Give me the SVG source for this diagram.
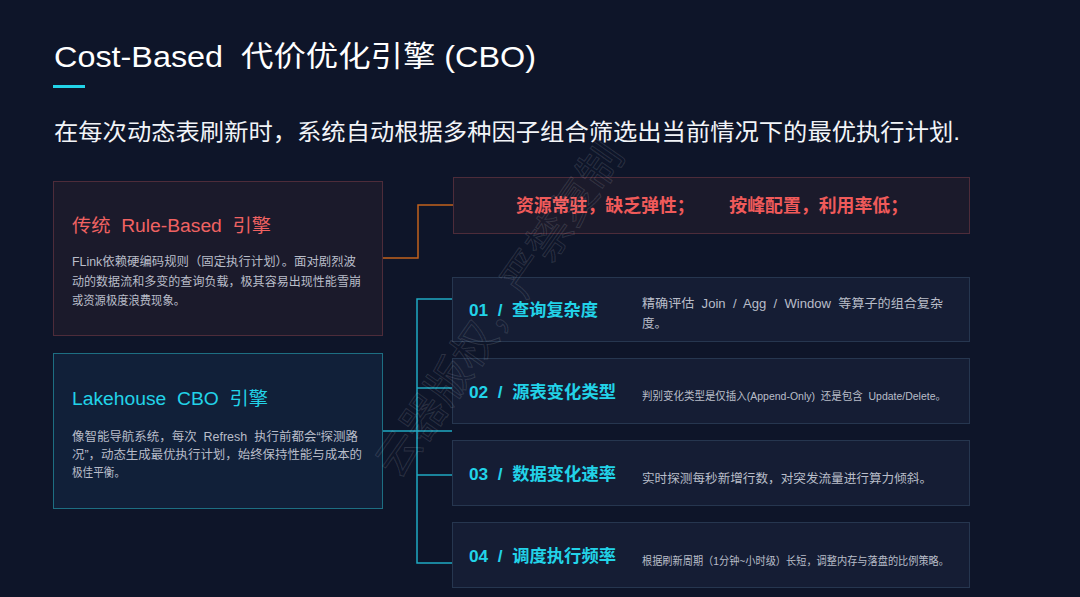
<svg xmlns="http://www.w3.org/2000/svg" width="1080" height="597" viewBox="0 0 1080 597" xml:space="preserve">
<defs>
<style>
text{font-family:"Liberation Sans","Noto Sans CJK SC",sans-serif;white-space:pre;}
.title{fill:#ffffff;font-size:29px;}
.sub{fill:#f2f4f8;font-size:23px;}
.redbox{fill:#1b1a2b;stroke:#4d2c3a;stroke-width:1;}
.cyanbox{fill:#112039;stroke:#1d6e82;stroke-width:1;}
.item{fill:#151d34;stroke:#26364f;stroke-width:1;}
.rtitle{fill:#f06262;font-size:18px;}
.ctitle{fill:#22d3e8;font-size:18px;}
.body{fill:#b9bdc9;font-size:12px;}
.lab{fill:#22d3e8;font-size:17px;font-weight:bold;}
.desc{fill:#b9bdc9;font-size:12.5px;}
.warn{fill:#f05a5a;font-size:18px;font-weight:bold;}
.oline{fill:none;stroke:#c2611c;stroke-width:1.5;}
.cline{fill:none;stroke:#1fa9c2;stroke-width:1.5;}
</style>
</defs>
<rect x="0" y="0" width="1080" height="597" fill="#0e1529"/>

<g id="header">
<text class="title" x="54" y="67" textLength="482" lengthAdjust="spacingAndGlyphs">Cost-Based  代价优化引擎 (CBO)</text>
<rect x="53" y="85" width="32" height="3" fill="#22d3e8"/>
<text class="sub" x="54" y="140" textLength="906" lengthAdjust="spacingAndGlyphs">在每次动态表刷新时，系统自动根据多种因子组合筛选出当前情况下的最优执行计划.</text>
</g>

<g id="connectors">
<polyline class="oline" points="383,258 418,258 418,205 453,205"/>
<polyline class="cline" points="383,431 452,431"/>
<polyline class="cline" points="452,299 417,299 417,563 452,563"/>
<line class="cline" x1="417" y1="388" x2="452" y2="388"/>
<line class="cline" x1="417" y1="475" x2="452" y2="475"/>
</g>

<g id="rule-based">
<rect class="redbox" x="53.5" y="181.5" width="329" height="154"/>
<text class="rtitle" x="72" y="232" textLength="199" lengthAdjust="spacingAndGlyphs">传统  Rule-Based  引擎</text>
<text class="body" x="72" y="266" textLength="284" lengthAdjust="spacingAndGlyphs">FLink依赖硬编码规则（固定执行计划）。面对剧烈波</text>
<text class="body" x="72" y="286" textLength="289" lengthAdjust="spacingAndGlyphs">动的数据流和多变的查询负载，极其容易出现性能雪崩</text>
<text class="body" x="72" y="305" textLength="113" lengthAdjust="spacingAndGlyphs">或资源极度浪费现象。</text>
</g>

<g id="lakehouse-cbo">
<rect class="cyanbox" x="53.5" y="353.5" width="329" height="155"/>
<text class="ctitle" x="72" y="405" textLength="196" lengthAdjust="spacingAndGlyphs">Lakehouse  CBO  引擎</text>
<text class="body" x="72" y="441" textLength="286" lengthAdjust="spacingAndGlyphs">像智能导航系统，每次  Refresh  执行前都会“探测路</text>
<text class="body" x="72" y="459" textLength="290" lengthAdjust="spacingAndGlyphs">况”，动态生成最优执行计划，始终保持性能与成本的</text>
<text class="body" x="72" y="477" textLength="53" lengthAdjust="spacingAndGlyphs">极佳平衡。</text>
</g>

<g id="drawbacks">
<rect class="redbox" x="453.5" y="177.5" width="516" height="56"/>
<text class="warn" x="516" y="212" textLength="392" lengthAdjust="spacingAndGlyphs">资源常驻，缺乏弹性；       按峰配置，利用率低；</text>
</g>

<g id="factor-01">
<rect class="item" x="452.5" y="277.5" width="517" height="64"/>
<text class="lab" x="469" y="316" textLength="129" lengthAdjust="spacingAndGlyphs">01  /  查询复杂度</text>
<text class="desc" x="642" y="308" textLength="301" lengthAdjust="spacingAndGlyphs">精确评估  Join  /  Agg  /  Window  等算子的组合复杂</text>
<text class="desc" x="642" y="328">度。</text>
</g>

<g id="factor-02">
<rect class="item" x="452.5" y="358.5" width="517" height="65"/>
<text class="lab" x="469" y="398" textLength="147" lengthAdjust="spacingAndGlyphs">02  /  源表变化类型</text>
<text class="desc" x="642" y="400" style="font-size:11px" textLength="304" lengthAdjust="spacingAndGlyphs">判别变化类型是仅插入(Append-Only)  还是包含  Update/Delete。</text>
</g>

<g id="factor-03">
<rect class="item" x="452.5" y="440.5" width="517" height="65"/>
<text class="lab" x="469" y="480" textLength="147" lengthAdjust="spacingAndGlyphs">03  /  数据变化速率</text>
<text class="desc" x="642" y="483" textLength="290" lengthAdjust="spacingAndGlyphs">实时探测每秒新增行数，对突发流量进行算力倾斜。</text>
</g>

<g id="factor-04">
<rect class="item" x="452.5" y="522.5" width="517" height="65"/>
<text class="lab" x="469" y="562" textLength="147" lengthAdjust="spacingAndGlyphs">04  /  调度执行频率</text>
<text class="desc" x="642" y="565" style="font-size:11px" textLength="307" lengthAdjust="spacingAndGlyphs">根据刷新周期（1分钟~小时级）长短，调整内存与落盘的比例策略。</text>
</g>

<g id="watermark">
<text x="0" y="0" transform="translate(512,318) rotate(-55)" text-anchor="middle" style="font-size:44px;fill:none;stroke:#ffffff;stroke-opacity:0.12;stroke-width:1">云器版权，严禁复制</text>
</g>
</svg>
